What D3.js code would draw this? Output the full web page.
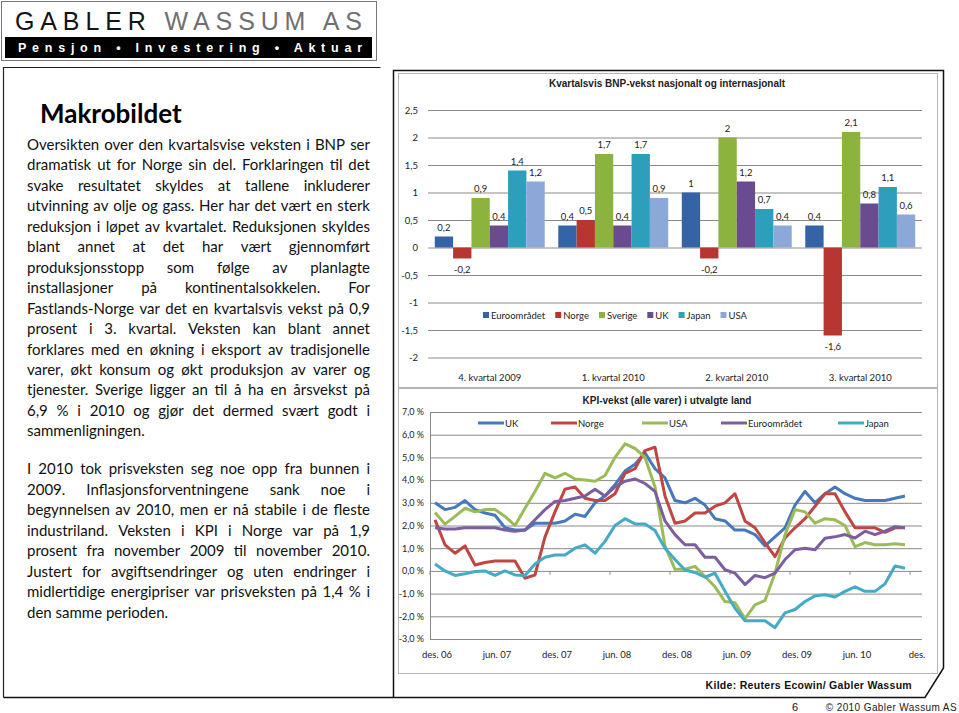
<!DOCTYPE html>
<html><head><meta charset="utf-8">
<script src="https://cdn.jsdelivr.net/npm/d3@7"></script>
<style>
html,body{margin:0;padding:0;background:#fff;}
svg{display:block;}
</style></head><body>
<svg id="c" width="959" height="713"></svg>
<script>
// ---------- DATA ----------
const bnpCategories = ["4. kvartal 2009", "1. kvartal 2010", "2. kvartal 2010", "3. kvartal 2010"];
const bnpSeriesNames = ["Euroområdet", "Norge", "Sverige", "UK", "Japan", "USA"];
const bnpEuroomradet = [0.2, 0.4, 1, 0.4];
const bnpNorge = [-0.2, 0.5, -0.2, -1.6];
const bnpSverige = [0.9, 1.7, 2, 2.1];
const bnpUK = [0.4, 0.4, 1.2, 0.8];
const bnpJapan = [1.4, 1.7, 0.7, 1.1];
const bnpUSA = [1.2, 0.9, 0.4, 0.6];
const bnpTicks = [2.5, 2, 1.5, 1, 0.5, 0, -0.5, -1, -1.5, -2];

const kpiSeriesNames = ["UK", "Norge", "USA", "Euroområdet", "Japan"];
const kpiXLabels = ["des. 06", "jun. 07", "des. 07", "jun. 08", "des. 08", "jun. 09", "des. 09", "jun. 10", "des."];
const kpiYTicks = [7, 6, 5, 4, 3, 2, 1, 0, -1, -2, -3];
// monthly, des. 2006 .. nov. 2010
const kpiUK = [3.0,2.7,2.8,3.1,2.7,2.55,2.45,1.9,1.8,1.8,2.1,2.1,
               2.1,2.2,2.5,2.4,3.0,3.3,3.8,4.4,4.7,5.2,4.5,4.1,
               3.1,3.0,3.2,2.9,2.3,2.2,1.8,1.8,1.6,1.1,1.5,1.9,
               2.9,3.5,3.0,3.4,3.7,3.4,3.2,3.1,3.1,3.1,3.2,3.3];
const kpiNorge = [2.25,1.15,0.78,1.1,0.26,0.37,0.44,0.44,0.44,-0.32,-0.18,1.5,
                  2.6,3.6,3.7,3.2,3.1,3.1,3.4,4.3,4.5,5.3,5.45,3.3,
                  2.1,2.2,2.55,2.55,2.85,3.0,3.4,2.2,1.9,1.25,0.63,1.45,
                  1.9,2.3,2.85,3.4,3.4,2.6,1.9,1.9,1.9,1.7,1.9,1.9];
const kpiUSA = [2.57,2.06,2.4,2.76,2.6,2.7,2.7,2.4,2.0,2.76,3.5,4.3,
                4.1,4.3,4.05,4.0,3.95,4.2,5.0,5.6,5.4,5.0,3.7,1.1,
                0.07,0.07,0.2,-0.25,-0.7,-1.35,-1.4,-2.1,-1.5,-1.3,-0.1,1.6,
                2.7,2.6,2.1,2.3,2.25,2.0,1.07,1.25,1.15,1.15,1.2,1.15];
const kpiEuroomradet = [1.9,1.85,1.85,1.9,1.9,1.9,1.9,1.8,1.75,1.8,2.25,2.7,
                        3.06,3.1,3.2,3.3,3.6,3.3,3.7,3.95,4.05,3.85,3.5,2.2,
                        1.6,1.15,1.15,0.6,0.6,0.05,-0.1,-0.6,-0.2,-0.3,-0.1,0.5,
                        0.93,1.0,0.93,1.44,1.5,1.6,1.45,1.75,1.6,1.75,1.95,1.9];
const kpiJapan = [0.3,0.0,-0.2,-0.13,-0.03,0.0,-0.2,0.0,-0.18,-0.2,0.3,0.6,
                  0.7,0.7,1.0,1.15,0.78,1.3,2.0,2.3,2.07,2.07,1.78,1.0,
                  0.5,0.04,-0.07,-0.28,-0.1,-0.9,-1.65,-2.2,-2.2,-2.2,-2.5,-1.85,
                  -1.7,-1.35,-1.1,-1.05,-1.15,-0.9,-0.7,-0.9,-0.9,-0.57,0.22,0.12];

const para1 = [
 "Oversikten over den kvartalsvise veksten i BNP ser",
 "dramatisk ut for Norge sin del. Forklaringen til det",
 "svake resultatet skyldes at tallene inkluderer",
 "utvinning av olje og gass. Her har det vært en sterk",
 "reduksjon i løpet av kvartalet. Reduksjonen skyldes",
 "blant annet at det har vært gjennomført",
 "produksjonsstopp som følge av planlagte",
 "installasjoner på kontinentalsokkelen. For",
 "Fastlands-Norge var det en kvartalsvis vekst på 0,9",
 "prosent i 3. kvartal. Veksten kan blant annet",
 "forklares med en økning i eksport av tradisjonelle",
 "varer, økt konsum og økt produksjon av varer og",
 "tjenester. Sverige ligger an til å ha en årsvekst på",
 "6,9 % i 2010 og gjør det dermed svært godt i",
 "sammenligningen."
];
const para2 = [
 "I 2010 tok prisveksten seg noe opp fra bunnen i",
 "2009. Inflasjonsforventningene sank noe i",
 "begynnelsen av 2010, men er nå stabile i de fleste",
 "industriland. Veksten i KPI i Norge var på 1,9",
 "prosent fra november 2009 til november 2010.",
 "Justert for avgiftsendringer og uten endringer i",
 "midlertidige energipriser var prisveksten på 1,4 % i",
 "den samme perioden."
];

// ---------- DRAW ----------
const svg = d3.select("#c");
const bodyFont = "Lato, 'Open Sans', sans-serif";
const arial = "'Liberation Sans', Arial, sans-serif";

// Logo
const logo = svg.append("g");
logo.append("rect").attr("x",1.5).attr("y",1.5).attr("width",375).attr("height",59)
  .attr("fill","#fff").attr("stroke","#777").attr("stroke-width",1);
const lt = logo.append("text").attr("x",15).attr("y",30).attr("font-family",arial)
  .attr("font-size",25).attr("textLength",347).attr("lengthAdjust","spacing");
lt.append("tspan").attr("fill","#141414").text("GABLER ");
lt.append("tspan").attr("fill","#707070").text("WASSUM AS");
logo.append("rect").attr("x",5).attr("y",37).attr("width",367).attr("height",21).attr("fill","#000");
logo.append("text").attr("x",18).attr("y",52).attr("font-family",arial).attr("font-weight","bold")
  .attr("font-size",12.5).attr("fill","#fff").attr("textLength",344).attr("lengthAdjust","spacing")
  .text("Pensjon • Investering • Aktuar");

// Frames
svg.append("path").attr("d","M3.5,697.5 V67.5 H380.5")
  .attr("fill","none").attr("stroke","#222").attr("stroke-width",1.2);
svg.append("path").attr("d","M393.5,697.5 V70.5 H943.5 V668 L925,697.5 H3.5")
  .attr("fill","none").attr("stroke","#111").attr("stroke-width",1.5);

// Left text
svg.append("text").attr("x",40).attr("y",123).attr("font-family",bodyFont).attr("font-weight","bold")
  .attr("font-size",26).attr("fill","#000").text("Makrobildet");

const measurer = svg.append("text").attr("font-family", bodyFont).attr("font-size", 15)
  .attr("x", -1000).attr("y", -1000);
function wordWidth(w) {
  measurer.text(w);
  return measurer.node().getComputedTextLength();
}
function drawPara(lines, y0, step) {
  const X0 = 27, WIDTH = 343;
  lines.forEach((str, li) => {
    const y = y0 + li * step;
    const last = li === lines.length - 1;
    const t = svg.append("text").attr("y", y).attr("font-family", bodyFont)
      .attr("font-size", 15).attr("fill", "#111");
    if (last) { t.attr("x", X0).text(str); return; }
    const words = str.split(" ");
    const widths = words.map(wordWidth);
    const gap = (WIDTH - d3.sum(widths)) / (words.length - 1);
    let x = X0;
    words.forEach((w, i) => {
      t.append("tspan").attr("x", x).text(i < words.length - 1 ? w + " " : w);
      x += widths[i] + gap;
    });
  });
}
drawPara(para1, 150, 20.45);
drawPara(para2, 474, 20.5);
measurer.remove();

// ---------- BAR CHART ----------
const bnpColors = ["#3463a6", "#b73632", "#8bb33d", "#6b4b90", "#2e9ebd", "#8ca8d8"];
const bnpValues = [bnpEuroomradet, bnpNorge, bnpSverige, bnpUK, bnpJapan, bnpUSA];
const g1 = svg.append("g");
g1.append("rect").attr("x",398.5).attr("y",73.5).attr("width",539).attr("height",314)
  .attr("fill","#fff").attr("stroke","#b5b5b5");
g1.append("text").attr("x",667).attr("y",87).attr("text-anchor","middle").attr("font-family",arial)
  .attr("font-weight","bold").attr("font-size",10).attr("fill","#222")
  .text("Kvartalsvis BNP-vekst nasjonalt og internasjonalt");

const y1 = d3.scaleLinear().domain([-2, 2.5]).range([357.5, 110]);
const x1 = d3.scaleBand().domain(bnpCategories).range([428, 922]);
const xs = d3.scaleBand().domain(bnpSeriesNames).range([0, x1.bandwidth()]).paddingOuter(0.37);
const fmt = v => String(v).replace(".", ",");

const yAxis1 = d3.axisLeft(y1).tickValues(bnpTicks).tickSize(-(922 - 428)).tickFormat(fmt);
const ya1 = g1.append("g").attr("transform","translate(428,0)").call(yAxis1);
ya1.select(".domain").remove();
ya1.selectAll(".tick line").attr("stroke","#8a8a8a").attr("stroke-width",1);
ya1.selectAll(".tick text").attr("x",-10).attr("font-family",bodyFont).attr("font-size",9.5).attr("fill","#222");

bnpSeriesNames.forEach((s, si) => {
  const vals = bnpValues[si];
  g1.selectAll(null).data(vals).enter().append("rect")
    .attr("x", (d, i) => x1(bnpCategories[i]) + xs(s))
    .attr("width", xs.bandwidth())
    .attr("y", d => y1(Math.max(0, d)))
    .attr("height", d => Math.abs(y1(d) - y1(0)))
    .attr("fill", bnpColors[si]);
  g1.selectAll(null).data(vals).enter().append("text")
    .attr("x", (d, i) => x1(bnpCategories[i]) + xs(s) + xs.bandwidth() / 2)
    .attr("y", d => d >= 0 ? y1(d) - 6 : y1(d) + 14)
    .attr("text-anchor","middle").attr("font-family",bodyFont).attr("font-size",9.5).attr("fill","#222")
    .text(d => fmt(d));
});
const xAxis1 = d3.axisBottom(x1).tickSize(0);
const xa1 = g1.append("g").attr("transform","translate(0,371)").call(xAxis1);
xa1.select(".domain").remove();
xa1.selectAll("text").attr("font-family",bodyFont).attr("font-size",9.5).attr("fill","#222");

// legend
let lx = 483;
const leg1 = g1.append("g");
bnpSeriesNames.forEach((s, si) => {
  leg1.append("rect").attr("x", lx).attr("y", 312).attr("width", 6).attr("height", 6).attr("fill", bnpColors[si]);
  const t = leg1.append("text").attr("x", lx + 8).attr("y", 318.5).attr("font-family", bodyFont)
    .attr("font-size", 9.5).attr("fill", "#222").text(s);
  lx += 8 + t.node().getComputedTextLength() + 10;
});

// ---------- LINE CHART ----------
const kpiColors = ["#4579bb", "#bf4642", "#9bbb59", "#7b5ea0", "#45aac6"];
const kpiValues = [kpiUK, kpiNorge, kpiUSA, kpiEuroomradet, kpiJapan];
const g2 = svg.append("g");
g2.append("rect").attr("x",398.5).attr("y",388.5).attr("width",539).attr("height",285)
  .attr("fill","#fff").attr("stroke","#b5b5b5");
g2.append("text").attr("x",667).attr("y",404).attr("text-anchor","middle").attr("font-family",arial)
  .attr("font-weight","bold").attr("font-size",10).attr("fill","#222")
  .text("KPI-vekst (alle varer) i utvalgte land");

const nMonths = kpiUK.length + 1;
const months = d3.range(nMonths);
const x2 = d3.scaleBand().domain(months).range([430, 920]);
const y2 = d3.scaleLinear().domain([-3, 7]).range([639, 412]);
const pct = v => v.toFixed(1).replace(".", ",") + " %";

const yAxis2 = d3.axisLeft(y2).tickValues(kpiYTicks).tickSize(-(922 - 430)).tickFormat(pct);
const ya2 = g2.append("g").attr("transform","translate(430,0)").call(yAxis2);
ya2.select(".domain").attr("stroke","#8a8a8a");
ya2.selectAll(".tick line").attr("stroke","#8a8a8a");
ya2.selectAll(".tick text").attr("x",-6).attr("font-family",bodyFont).attr("font-size",9).attr("fill","#222");

// zero axis ticks
const tickMonths = months.filter(m => m % 6 === 0);
g2.selectAll(null).data(tickMonths).enter().append("line")
  .attr("x1", m => x2(m)).attr("x2", m => x2(m))
  .attr("y1", y2(0)).attr("y2", y2(0) + 4).attr("stroke","#8a8a8a");
g2.selectAll(null).data(tickMonths).enter().append("text")
  .attr("x", m => x2(m) + x2.bandwidth() / 2 + 2).attr("y", 658)
  .attr("text-anchor","middle").attr("font-family",bodyFont).attr("font-size",9.5).attr("fill","#222")
  .text((m, i) => kpiXLabels[i]);

const line = d3.line().x((d, i) => x2(i) + x2.bandwidth() / 2).y(d => y2(d));
kpiValues.forEach((vals, si) => {
  g2.append("path").datum(vals).attr("d", line).attr("fill","none")
    .attr("stroke", kpiColors[si]).attr("stroke-width", 3).attr("stroke-linejoin","round");
});

// legend
const legX = [478, 551, 642, 721, 838];
kpiSeriesNames.forEach((s, si) => {
  g2.append("line").attr("x1", legX[si]).attr("x2", legX[si] + 26).attr("y1", 423).attr("y2", 423)
    .attr("stroke", kpiColors[si]).attr("stroke-width", 3);
  g2.append("text").attr("x", legX[si] + 27).attr("y", 426.5).attr("font-family", bodyFont)
    .attr("font-size", 9.5).attr("fill", "#222").text(s);
});

// ---------- FOOTER ----------
svg.append("text").attr("x",912).attr("y",689).attr("text-anchor","end").attr("font-family",arial)
  .attr("font-weight","bold").attr("font-size",10.5).attr("fill","#111").attr("letter-spacing",0.3)
  .text("Kilde: Reuters Ecowin/ Gabler Wassum");
svg.append("text").attr("x",795).attr("y",711).attr("text-anchor","middle").attr("font-family",arial)
  .attr("font-size",11).attr("fill","#111").text("6");
svg.append("text").attr("x",957).attr("y",711).attr("text-anchor","end").attr("font-family",arial)
  .attr("font-size",10).attr("fill","#222").attr("letter-spacing",0.4).text("© 2010 Gabler  Wassum AS");
</script></body></html>
